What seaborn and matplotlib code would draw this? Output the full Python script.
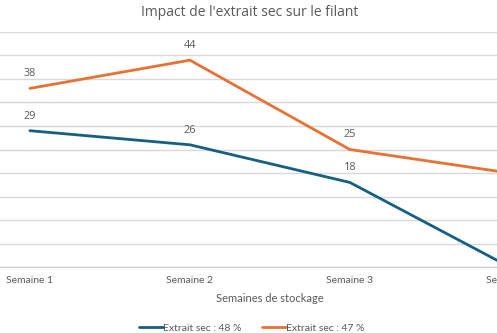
import matplotlib
matplotlib.use("Agg")
import matplotlib.pyplot as plt
import matplotlib.transforms as mtransforms
from matplotlib.lines import Line2D
import seaborn as sns
import pandas as pd

# ---- data ----
weeks = ["Semaine 1", "Semaine 2", "Semaine 3", "Semaine 4"]
series_names = ["Extrait sec : 48 %", "Extrait sec : 47 %"]
values_48 = [29, 26, 18, 0]
values_47 = [38, 44, 25, 20]
colors = ["#156082", "#E97132"]
title = "Impact de l'extrait sec sur le filant"
xlabel = "Semaines de stockage"

df = pd.DataFrame({
    "x": list(range(len(weeks))) * 2,
    "value": values_48 + values_47,
    "serie": [series_names[0]] * len(weeks) + [series_names[1]] * len(weeks),
})

sns.set_theme(style="white")
plt.rcParams["font.family"] = ["Lato", "DejaVu Sans"]
txt = "#595959"

fig = plt.figure(figsize=(4.97, 3.33), dpi=100)
ax = fig.add_axes([0.0, 0.198, 1.0, 0.706])

sns.lineplot(data=df, x="x", y="value", hue="serie", palette=colors,
             hue_order=series_names, linewidth=2.0, ax=ax, legend=False,
             sort=False)

ax.set_xlim(-0.1875, 2.92)
ax.set_ylim(0, 50)
ax.set_yticks(range(0, 51, 5))
ax.set_yticklabels([])
ax.set_xticks([])
ax.tick_params(left=False, bottom=False)
ax.grid(axis="y", color="#d9d9d9", linewidth=1)
for s in ["left", "right", "top"]:
    ax.spines[s].set_visible(False)
ax.spines["bottom"].set_color("#d0d0d0")
ax.spines["bottom"].set_linewidth(1)
ax.set_xlabel("")
ax.set_ylabel("")

# data labels
for vals in (values_48, values_47):
    for i, v in enumerate(vals):
        ax.annotate(str(v), (i, v), xytext=(0, 10.5), textcoords="offset points",
                    ha="center", va="center", fontsize=7.8, color=txt,
                    family=["Open Sans", "DejaVu Sans"])

# category labels
trans = mtransforms.blended_transform_factory(ax.transData, ax.transAxes)
for i, w in enumerate(weeks):
    ax.text(i, -0.058, w, transform=trans, ha="center", va="center",
            fontsize=7.5, color=txt, clip_on=False)

fig.text(0.543, 0.105, xlabel, ha="center", va="center", fontsize=8, color=txt)
fig.text(0.503, 0.962, title, ha="center", va="center", fontsize=10,
         color=txt, family=["Open Sans", "DejaVu Sans"])

handles = [Line2D([0], [0], color=c, lw=2.0) for c in colors]
fig.legend(handles, series_names, loc="center", bbox_to_anchor=(0.506, 0.015),
           ncol=2, frameon=False, fontsize=7.5, labelcolor=txt,
           handlelength=2.3, handletextpad=0.0, columnspacing=2.0)

fig.savefig("out.png", dpi=100)
